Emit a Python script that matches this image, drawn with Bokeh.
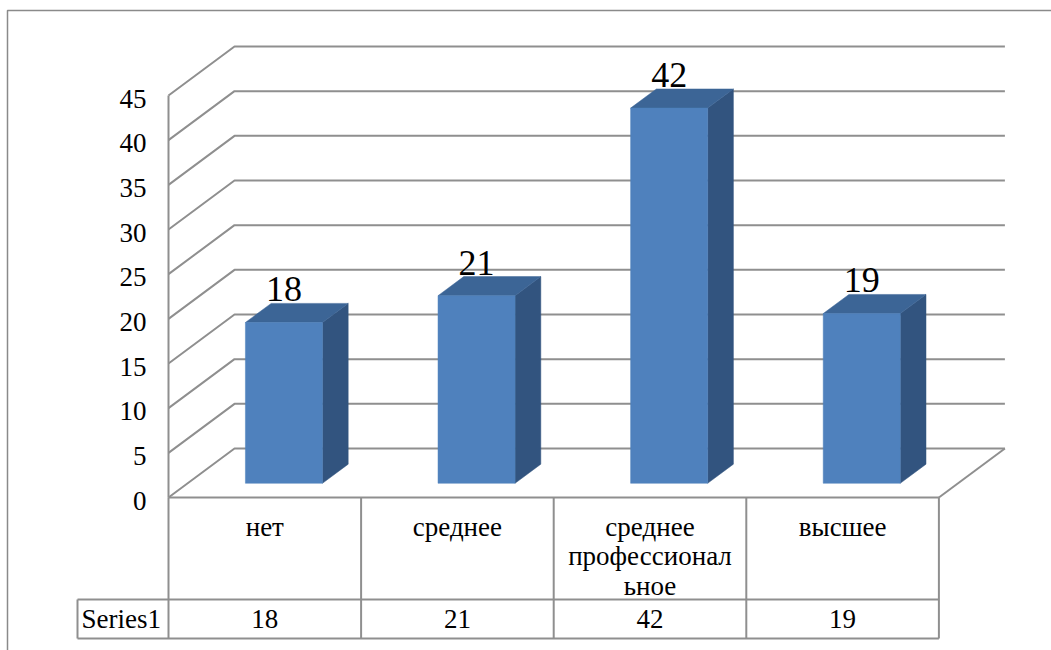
from bokeh.plotting import figure
from bokeh.models import Range1d
from bokeh.core.properties import value
from bokeh.embed import file_html
from bokeh.resources import INLINE

# ---- data ----
categories = ["нет", "среднее", "среднее\nпрофессионал\nьное", "высшее"]
series_name = "Series1"
series_values = [18, 21, 42, 19]
y_ticks = [0, 5, 10, 15, 20, 25, 30, 35, 40, 45]

# ---- layout (pixels) ----
W, H = 1051, 650
X0 = 168.0          # left edge of the front plane
CAT_W = 192.6       # width of one category column
Y0 = 497.0          # zero line on the front plane
PPU = 402.0 / 45.0  # pixels per value unit
DEPTH_PX = (66.0, 49.0)  # 3D depth offset (right, up)

def ux(px):  # pixel x -> data x
    return (px - X0) / CAT_W

def uy(py):  # pixel y (from top) -> data y
    return (Y0 - py) / PPU

DX = DEPTH_PX[0] / CAT_W
DY = DEPTH_PX[1] / PPU
N = len(categories)
Y_MAX = y_ticks[-1]

FONT = value("Liberation Serif")
GRID = "#8f8f8f"
FRONT, TOP, SIDE = "#4f81bd", "#3c6596", "#32547f"

p = figure(width=W, height=H, output_backend="svg", toolbar_location=None,
           x_range=Range1d(ux(0), ux(W)), y_range=Range1d(uy(H), uy(0)),
           min_border=0, outline_line_color=None)
p.axis.visible = False
p.grid.visible = False
p.background_fill_color = "white"
p.border_fill_color = "white"

# outer chart border
p.line([ux(7), ux(7), ux(W + 5)], [uy(H + 5), uy(10), uy(10)],
       line_color="#8a8a8a", line_width=1.5)

# walls: left-wall diagonals, back-wall gridlines
gx, gy = [], []
for t in y_ticks:
    gx.append([0, DX, N + DX])
    gy.append([t, t + DY, t + DY])
gx.append([0, 0]); gy.append([0, Y_MAX])
gx.append([N, N + DX]); gy.append([0, DY])
p.multi_line(gx, gy, line_color=GRID, line_width=2)

# 3D bars
f0, f1 = 0.29, 0.68
hw = 0.2
fl, fr, fb, ft = [], [], [], []
top_xs, top_ys, side_xs, side_ys = [], [], [], []
for i, v in enumerate(series_values):
    cx = i + 0.5
    l0, r0 = cx - hw + f0 * DX, cx + hw + f0 * DX
    l1, r1 = cx - hw + f1 * DX, cx + hw + f1 * DX
    b0, b1 = f0 * DY, f1 * DY
    fl.append(l0); fr.append(r0); fb.append(b0); ft.append(v + b0)
    top_xs.append([l0, r0, r1, l1]); top_ys.append([v + b0, v + b0, v + b1, v + b1])
    side_xs.append([r0, r1, r1, r0]); side_ys.append([b0, b1, v + b1, v + b0])
p.patches(side_xs, side_ys, fill_color=SIDE, line_color=SIDE, line_width=0.5)
p.patches(top_xs, top_ys, fill_color=TOP, line_color=TOP, line_width=0.5)
p.quad(left=fl, right=fr, bottom=fb, top=ft, fill_color=FRONT, line_color=FRONT, line_width=0.5)

# value labels above bars
p.text(x=[i + 0.5 + f0 * DX for i in range(N)],
       y=[v + f1 * DY + 14.0 / PPU for v in series_values],
       text=[str(v) for v in series_values], text_font=FONT, text_font_size="36px",
       text_align="center", text_baseline="middle", text_color="black")

# y tick labels
p.text(x=[ux(X0 - 22)] * len(y_ticks), y=[t - 3.0 / PPU for t in y_ticks],
       text=[str(t) for t in y_ticks], text_font=FONT, text_font_size="27px",
       text_align="right", text_baseline="middle", text_color="black")

# data table
ROW1, ROW2 = 599.0, 638.0
tx, ty = [], []
tx.append([0, N]); ty.append([0, 0])
tx.append([ux(77), N]); ty.append([uy(ROW1), uy(ROW1)])
tx.append([ux(77), N]); ty.append([uy(ROW2), uy(ROW2)])
tx.append([ux(77), ux(77)]); ty.append([uy(ROW1), uy(ROW2)])
for k in range(N + 1):
    tx.append([k, k]); ty.append([0, uy(ROW2)])
p.multi_line(tx, ty, line_color=GRID, line_width=2)

lx, ly, lt = [], [], []
for i, c in enumerate(categories):
    for j, line in enumerate(c.split("\n")):
        lx.append(i + 0.5); ly.append(uy(526 + 29.5 * j)); lt.append(line)
p.text(x=lx, y=ly, text=lt, text_font=FONT, text_font_size="27px",
       text_align="center", text_baseline="middle", text_color="black")

p.text(x=[i + 0.5 for i in range(N)], y=[uy((ROW1 + ROW2) / 2)] * N,
       text=[str(v) for v in series_values], text_font=FONT, text_font_size="27px",
       text_align="center", text_baseline="middle", text_color="black")
p.text(x=[ux(81)], y=[uy((ROW1 + ROW2) / 2)], text=[series_name], text_font=FONT,
       text_font_size="27px", text_align="left", text_baseline="middle", text_color="black")

open("out.html", "w").write(file_html(p, INLINE))
